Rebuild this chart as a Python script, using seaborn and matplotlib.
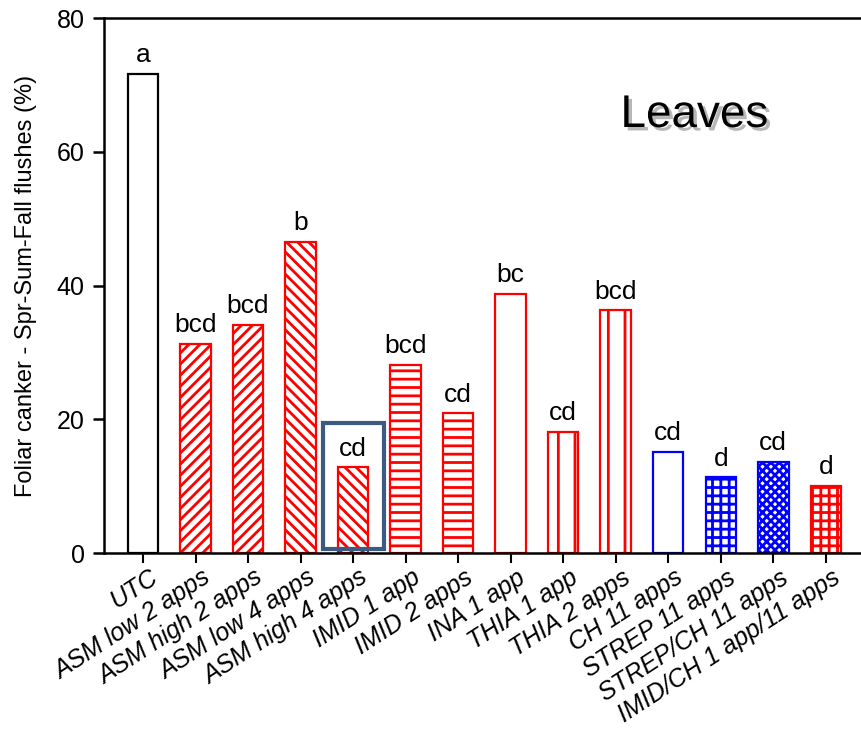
import matplotlib
matplotlib.use("Agg")
import matplotlib.pyplot as plt
import matplotlib.patheffects as pe
import matplotlib.transforms as mtransforms
from matplotlib.patches import Rectangle
import seaborn as sns
import pandas as pd

# Treatments and disease incidence
treatments = ["UTC", "ASM low 2 apps", "ASM high 2 apps", "ASM low 4 apps",
              "ASM high 4 apps", "IMID 1 app", "IMID 2 apps", "INA 1 app",
              "THIA 1 app", "THIA 2 apps", "CH 11 apps", "STREP 11 apps",
              "STREP/CH 11 apps", "IMID/CH 1 app/11 apps"]
canker = [71.6, 31.3, 34.1, 46.5, 12.8, 28.1, 20.9, 38.8, 18.1, 36.3,
          15.1, 11.3, 13.6, 10.0]
letters = ["a", "bcd", "bcd", "b", "cd", "bcd", "cd", "bc", "cd", "bcd",
           "cd", "d", "cd", "d"]

# Bar styling per treatment
edge_colors = ["black", "red", "red", "red", "red", "red", "red", "red",
               "red", "red", "blue", "blue", "blue", "red"]
hatches = [None, "///", "///", "\\\\\\", "\\\\\\", "--", "--", None,
           "|", "|", None, "++", "xxxx", "++"]
highlight = 4

sns.set_theme(style="white")
plt.rcParams["font.family"] = ["Liberation Sans", "DejaVu Sans"]
plt.rcParams["hatch.linewidth"] = 2.0
plt.rcParams["text.color"] = "black"
plt.rcParams["xtick.color"] = "black"
plt.rcParams["ytick.color"] = "black"
plt.rcParams["axes.labelcolor"] = "black"

fig = plt.figure(figsize=(8.61, 7.35), dpi=100)
ax = fig.add_axes([0.1208, 0.2476, 0.8792, 0.7279])

df = pd.DataFrame({"treatment": treatments, "canker": canker})
sns.barplot(data=df, x="treatment", y="canker", color="white",
            width=0.58, ax=ax, errorbar=None)

for patch, ec, h in zip(ax.patches, edge_colors, hatches):
    patch.set_facecolor("white")
    patch.set_edgecolor(ec)
    patch.set_linewidth(1.6)
    if h:
        patch.set_hatch(h)

# significance letters above the bars
for i, (v, lab) in enumerate(zip(canker, letters)):
    ax.text(i, v + 1.0, lab, ha="center", va="bottom", fontsize=19,
            color="black")

# highlight box around the selected treatment
ax.add_patch(Rectangle((highlight - 0.58, 0.6), 1.16,
                       canker[highlight] + 6.0, fill=False,
                       edgecolor="#3d5a82", linewidth=3.0, zorder=5,
                       clip_on=False))

ax.text(10.5, 65.5, "Leaves", fontsize=33, ha="center", va="center",
        color="black",
        path_effects=[pe.SimplePatchShadow(offset=(2.5, -2.5),
                                           shadow_rgbFace="#888888",
                                           alpha=0.6),
                      pe.Normal()])

ax.set_xlim(-0.742, 13.67)
ax.set_ylim(0, 80)
ax.set_yticks([0, 20, 40, 60, 80])
ax.set_xlabel("")
ax.set_ylabel("Foliar canker - Spr-Sum-Fall flushes (%)", fontsize=17,
              labelpad=14)

for side in ["left", "bottom", "top"]:
    ax.spines[side].set_visible(True)
    ax.spines[side].set_color("black")
    ax.spines[side].set_linewidth(1.8)
ax.spines["right"].set_visible(False)

ax.tick_params(axis="y", direction="out", length=8, width=1.8,
               labelsize=18, left=True, pad=6)
ax.tick_params(axis="x", direction="out", length=7, width=1.5,
               bottom=True, pad=2)
ax.set_xticks(range(len(treatments)))
ax.set_xticklabels(treatments, rotation=33, ha="right",
                   rotation_mode="anchor", fontsize=18, style="italic")
shift = mtransforms.ScaledTranslation(6 / 100, 0, fig.dpi_scale_trans)
for lbl in ax.get_xticklabels():
    lbl.set_va("top")
    lbl.set_transform(lbl.get_transform() + shift)

fig.savefig("out.png", dpi=100)
